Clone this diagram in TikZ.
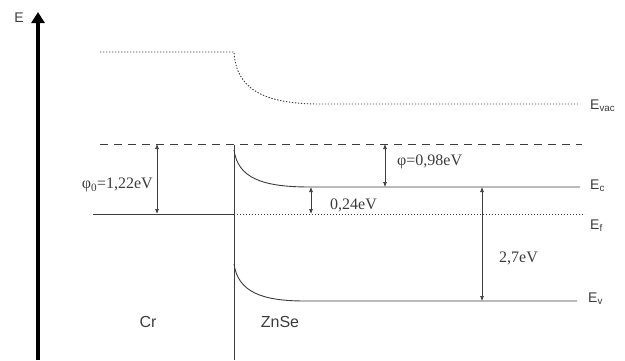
\documentclass[tikz,border=0pt]{standalone}
\usepackage{fontspec}
\setmainfont{Liberation Serif}
\newfontfamily\arialfont{Liberation Sans}
\usetikzlibrary{arrows.meta,positioning,calc}

\definecolor{inkgray}{RGB}{60,60,60}

\begin{document}
\begin{tikzpicture}[x=1pt,y=-1pt,
    level/.style={inkgray, line width=0.9pt},
    dotlevel/.style={inkgray, line width=0.9pt, dash pattern=on 1.4pt off 1.6pt},
    dashlevel/.style={inkgray, line width=0.9pt, dash pattern=on 8pt off 6pt},
    gap/.style={inkgray, line width=0.7pt, {Latex[length=5pt,width=4pt]}-{Latex[length=5pt,width=4pt]}},
    vallbl/.style={inkgray, inner sep=0pt, font=\fontsize{16}{18}\selectfont},
    sanslbl/.style={inkgray, inner sep=0pt, font=\arialfont\fontsize{14}{16}\selectfont},
    matlbl/.style={inkgray, inner sep=0pt, font=\arialfont\fontsize{16}{18}\selectfont}]
    \useasboundingbox (0,0) rectangle (625,360);

    % Energy axis
    \coordinate (axbot) at (38,360);
    \coordinate (axtop) at (38,12);
    \draw[black, line width=3.5pt, -{Triangle[length=11pt,width=13pt]}] (axbot) -- (axtop);
    \node[sanslbl] (elab) at (19,18) {E};

    % Level labels on the right
    \node[sanslbl, anchor=west] (evac) at (590,106) {E\textsubscript{vac}};
    \node[sanslbl, anchor=west] (ec) at (590,186) {E\textsubscript{c}};
    \node[sanslbl, anchor=west] (ef) at (590,226) {E\textsubscript{f}};
    \node[sanslbl, anchor=west] (ev) at (588,299) {E\textsubscript{v}};

    % Interface
    \coordinate (ifctop) at (234,145);
    \coordinate (ifcbot) at (234,360);
    \draw[level] (ifctop) -- (ifcbot);

    % Vacuum level
    \coordinate (vacl) at (100,52);
    \coordinate (vacm) at (234,52);
    \coordinate (vacf) at (320,104);
    \coordinate (vacr) at (580,104);
    \draw[dotlevel] (vacl) -- (vacm) .. controls (236,88) and (262,104) .. (vacf) -- (vacr);

    % Dashed reference level
    \coordinate (refl) at (100,144);
    \coordinate (refr) at (582,144);
    \draw[dashlevel] (refl) -- (refr);

    % Conduction band
    \coordinate (cbt) at (234,150);
    \coordinate (cbf) at (310,187);
    \coordinate (cbr) at (580,187);
    \draw[level] (cbt) .. controls (238,178) and (262,187) .. (cbf) -- (cbr);

    % Fermi level
    \coordinate (fl) at (93,214);
    \coordinate (fm) at (234,214);
    \coordinate (fr) at (585,214);
    \draw[level] (fl) -- (fm);
    \draw[dotlevel] (fm) -- (fr);

    % Valence band
    \coordinate (vbt) at (234,264);
    \coordinate (vbf) at (305,301);
    \coordinate (vbr) at (577,301);
    \draw[level] (vbt) .. controls (238,292) and (262,301) .. (vbf) -- (vbr);

    % Energy gaps
    \draw[gap] (157,144) coordinate (wa) -- (157,214) coordinate (wb);
    \node[vallbl, anchor=east] (phi0) at (153,185) {φ\textsubscript{0}=1,22eV};
    \draw[gap] (385,144) coordinate (ba) -- (385,187) coordinate (bb);
    \node[vallbl, anchor=west] (phib) at (397,162) {φ=0,98eV};
    \draw[gap] (311,187) coordinate (da) -- (311,214) coordinate (db);
    \node[vallbl, anchor=west] (dlab) at (330,205) {0,24eV};
    \draw[gap] (482,187) coordinate (ga) -- (482,301) coordinate (gb);
    \node[vallbl, anchor=west] (glab) at (499,258) {2,7eV};

    % Materials
    \node[matlbl] (cr) at (148,322) {Cr};
    \node[matlbl] (znse) at (280,322) {ZnSe};
\end{tikzpicture}
\end{document}
